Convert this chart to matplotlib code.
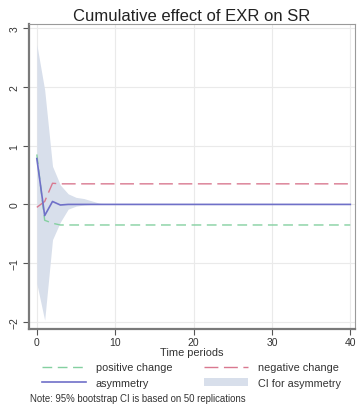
import matplotlib
matplotlib.use("Agg")
import matplotlib.pyplot as plt
import numpy as np
from matplotlib.patches import Patch
from matplotlib.lines import Line2D

plt.rcParams['font.family'] = ['Liberation Sans', 'DejaVu Sans']

periods = list(range(0, 41))
positive_change = [0.85, -0.27, -0.32, -0.35] + [-0.35] * 37
negative_change = [-0.05, 0.05, 0.36, 0.35] + [0.35] * 37
asymmetry = [0.78, -0.19, 0.05, -0.01, 0.0] + [0.0] * 36
ci_upper = [2.72, 1.95, 0.65, 0.33, 0.18, 0.12, 0.10, 0.06, 0.02, 0.01] + [0.0] * 31
ci_lower = [-1.35, -1.97, -0.60, -0.30, -0.08, -0.03, -0.01, 0.0, 0.0, 0.0] + [0.0] * 31

title = "Cumulative effect of EXR on SR"
xlabel = "Time periods"
xticks = [0, 10, 20, 30, 40]
yticks = [-2, -1, 0, 1, 2, 3]
legend_labels = ["positive change", "negative change", "asymmetry", "CI for asymmetry"]
note = "Note: 95% bootstrap CI is based on 50 replications"

W, H = 360, 410
fig = plt.figure(figsize=(W / 100, H / 100), dpi=100)
fig.patch.set_facecolor("white")
ax = fig.add_axes([29 / W, (H - 330) / H, (355 - 29) / W, (330 - 25) / H])

band_c = "#d8dfeb"
green = "#84d0a0"
red = "#d9788f"
blue = "#6f70c8"

ax.fill_between(periods, ci_lower, ci_upper, color=band_c, lw=0, zorder=1)
ax.plot(periods, positive_change, color=green, lw=1.0, dashes=(7, 4), zorder=3)
ax.plot(periods, negative_change, color=red, lw=1.0, dashes=(10, 4), zorder=3)
ax.plot(periods, asymmetry, color=blue, lw=1.2, zorder=4)

ax.set_xlim(-1, 40.6)
ax.set_ylim(-2.12, 3.07)
ax.set_xticks(xticks)
ax.set_yticks(yticks)
ax.grid(True, color="#eaeaea", lw=0.8, zorder=0)
ax.set_axisbelow(True)

for s in ["left", "bottom"]:
    ax.spines[s].set_color("#7a7a7a")
    ax.spines[s].set_linewidth(1.6)
for s in ["top", "right"]:
    ax.spines[s].set_color("#9a9a9a")
    ax.spines[s].set_linewidth(0.8)

ax.tick_params(axis="both", labelsize=7.5, color="#555555", length=4, width=0.8, colors="#333333")
for lab in ax.get_yticklabels():
    lab.set_rotation(90)
    lab.set_va("center")
ax.tick_params(axis="y", pad=3)
ax.tick_params(axis="x", pad=2)

ax.set_title(title, fontsize=12, color="#222222", pad=3)
ax.set_xlabel(xlabel, fontsize=7.9, color="#333333", labelpad=0)

handles = [
    Line2D([0], [0], color=green, lw=1.0, dashes=(7, 4)),
    Line2D([0], [0], color=red, lw=1.0, dashes=(10, 4)),
    Line2D([0], [0], color=blue, lw=1.2),
    Patch(facecolor=band_c, edgecolor="none"),
]
order = [0, 2, 1, 3]
fig.legend([handles[i] for i in order], [legend_labels[i] for i in order], ncol=2,
           loc="center left", bbox_to_anchor=(32 / W, (H - 376) / H), frameon=False,
           fontsize=7.8, handlelength=4.1, handletextpad=0.9, columnspacing=2.9,
           labelspacing=0.5, labelcolor="#333333")

fig.text(30 / W, (H - 399) / H, note, fontsize=6.9, color="#333333", va="center")

fig.savefig("out.png", dpi=100, facecolor="white")
